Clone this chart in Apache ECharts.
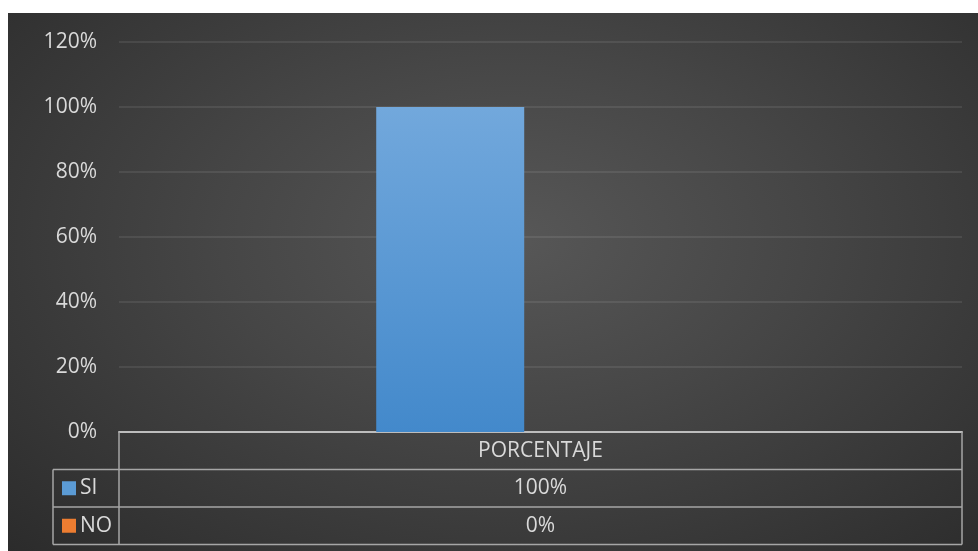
<!DOCTYPE html>
<html>
<head>
<meta charset="utf-8">
<script src="https://cdn.jsdelivr.net/npm/echarts@6/dist/echarts.min.js"></script>
<style>
  html, body { margin: 0; padding: 0; background: #ffffff; }
  #chart {
    position: absolute; left: 8px; top: 13px; width: 970px; height: 538px;
    background: radial-gradient(ellipse 75% 85% at 52% 42%, #575757 0%, #464646 40%, #2a2a2a 100%);
  }
</style>
</head>
<body>
<div id="chart"></div>
<script>
// Chart data
const categories = ['PORCENTAJE'];
const seriesNames = ['SI', 'NO'];
const siValues = [1.0];
const noValues = [0];
const seriesColors = ['#5b9bd5', '#ed7d31'];
const yMin = 0, yMax = 1.2, yStep = 0.2;

const pct = v => Math.round(v * 100) + '%';
const FONT = '"Open Sans", "Liberation Sans", sans-serif';
const TEXT = '#d9d9d9';
const FS = 21;

// Plot area inside the container
const G = { left: 111, right: 16, top: 29, bottom: 119 };
const W = 970, H = 538;

const chart = echarts.init(document.getElementById('chart'), null, { renderer: 'canvas' });

chart.setOption({
  backgroundColor: 'transparent',
  animation: false,
  grid: { left: G.left, right: G.right, top: G.top, bottom: G.bottom, containLabel: false },
  xAxis: {
    type: 'category',
    data: categories,
    axisLine: { show: true, lineStyle: { color: '#bdbdbd', width: 2 } },
    axisTick: { show: false },
    axisLabel: { show: false }
  },
  yAxis: {
    type: 'value',
    min: yMin, max: yMax, interval: yStep,
    axisLine: { show: false },
    axisTick: { show: false },
    splitLine: { lineStyle: { color: 'rgba(255,255,255,0.11)', width: 1.5 } },
    axisLabel: {
      formatter: v => pct(v),
      color: TEXT, fontFamily: FONT, fontSize: FS, margin: 22
    }
  },
  series: [
    {
      name: seriesNames[0], type: 'bar', data: siValues,
      barWidth: 148, barGap: '22%',
      itemStyle: {
        color: new echarts.graphic.LinearGradient(0, 0, 0, 1, [
          { offset: 0, color: '#72a8dc' },
          { offset: 1, color: '#4389cb' }
        ]),
        shadowBlur: 8, shadowColor: 'rgba(0,0,0,0.45)'
      }
    },
    {
      name: seriesNames[1], type: 'bar', data: noValues,
      barWidth: 148, barGap: '22%',
      itemStyle: { color: seriesColors[1] }
    }
  ]
});

// Data table below the plot, aligned to the axis scale
function drawTable() {
  const y0 = chart.convertToPixel({ yAxisIndex: 0 }, yMin);
  const xL = G.left, xR = W - G.right, xLeg = 45;
  const rowH = 37.5;
  const r1 = y0 + rowH, r2 = r1 + rowH, r3 = r2 + rowH;
  const xMid = (xL + xR) / 2;
  const line = (x1, y1, x2, y2) => ({
    type: 'line', shape: { x1, y1, x2, y2 },
    style: { stroke: '#a6a6a6', lineWidth: 1.5 }, z: 10
  });
  const txt = (x, y, text, align) => ({
    type: 'text', x, y, z: 11,
    style: { text, fill: TEXT, font: FS + 'px ' + FONT, textAlign: align, textVerticalAlign: 'middle' }
  });
  const rows = [
    { name: seriesNames[0], color: seriesColors[0], value: siValues[0], top: r1 },
    { name: seriesNames[1], color: seriesColors[1], value: noValues[0], top: r2 }
  ];
  const els = [
    line(xL, y0, xL, r3),
    line(xR, y0, xR, r3),
    line(xLeg, r1, xLeg, r3),
    line(xLeg, r1, xR, r1),
    line(xLeg, r2, xR, r2),
    line(xLeg, r3, xR, r3),
    txt(xMid, (y0 + r1) / 2, categories[0], 'center')
  ];
  rows.forEach(r => {
    const cy = r.top + rowH / 2;
    els.push({ type: 'rect', shape: { x: xLeg + 9, y: cy - 7, width: 14, height: 14 }, style: { fill: r.color }, z: 11 });
    els.push(txt(xLeg + 27, cy, r.name, 'left'));
    els.push(txt(xMid, cy, pct(r.value), 'center'));
  });
  chart.setOption({ graphic: { elements: els } });
}
drawTable();
</script>
</body>
</html>
